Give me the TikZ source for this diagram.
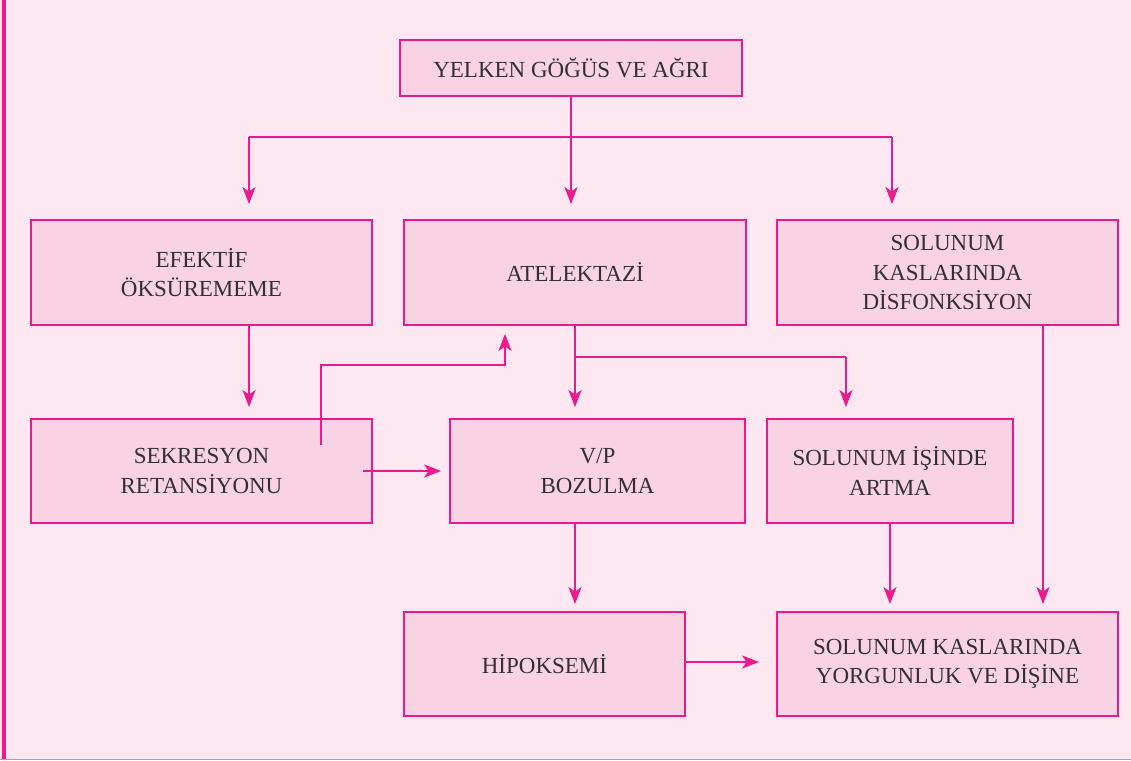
\documentclass[tikz,border=0pt]{standalone}
\usepackage{fontspec}
\setmainfont{Liberation Serif}
\usepackage{xcolor}
\usepackage{tikz}
\usetikzlibrary{arrows.meta}
\usetikzlibrary{positioning}
\definecolor{bgpink}{HTML}{FDE8F1}
\definecolor{boxpink}{HTML}{F9D3E4}
\definecolor{mag}{HTML}{EC1A8D}
\definecolor{txtgray}{HTML}{333033}
\tikzset{
	boxnode/.style={rectangle, draw=mag, fill=boxpink, line width=1.9pt, align=center, text=txtgray, font=\fontsize{23}{29.3}\selectfont, inner sep=0pt},
	link/.style={draw=mag, line width=1.8pt},
	arr/.style={link, -{Stealth[length=17pt, width=13pt, inset=4.5pt]}}
}

\begin{document}
\begin{tikzpicture}[x=1pt, y=-1pt]
		\useasboundingbox (0,0) rectangle (1131,760);
		\fill[bgpink] (0,0) rectangle (1131,760);
		\draw[mag, line width=3.2pt] (4,0) -- (4,760);
		\draw[mag!60, line width=1.2pt] (0,759.5) -- (1131,759.5);

		\node[boxnode, minimum width=342pt, minimum height=56pt] at (571,68) (agri) {YELKEN GÖĞÜS VE AĞRI};

		\node[boxnode, minimum width=341pt, minimum height=105pt] at (201.5,272.5) (efektif) {EFEKTİF\\ÖKSÜREMEME};
		\node[boxnode, minimum width=342pt, minimum height=105pt] at (575,272.5) (atelek) {ATELEKTAZİ};
		\node[boxnode, minimum width=341pt, minimum height=105pt] at (947.5,272.5) (disfonk) {SOLUNUM\\KASLARINDA\\DİSFONKSİYON};

		\node[boxnode, minimum width=341pt, minimum height=104pt] at (201.5,471) (sekres) {SEKRESYON\\RETANSİYONU};
		\node[boxnode, minimum width=295pt, minimum height=104pt] at (597.5,471) (vp) {V/P\\BOZULMA};
		\node[boxnode, minimum width=246pt, minimum height=104pt] at (890,471) (isinde) {SOLUNUM İŞİNDE\\ARTMA};

		\node[boxnode, minimum width=281pt, minimum height=104pt] at (544.5,664) (hipoks) {HİPOKSEMİ};
		\node[boxnode, minimum width=341pt, minimum height=104pt] at (947.5,664) (yorgun) {SOLUNUM KASLARINDA\\YORGUNLUK VE DİŞİNE};

		% top split
		\coordinate (busL) at (249,137);
		\coordinate (busR) at (892,137);
		\draw[link] (agri.south) -- (agri.south |- busL);
		\draw[link] (busL) -- (busR);
		\draw[arr, shorten >=15pt] (busL) -- (busL |- efektif.north);
		\draw[arr, shorten >=15pt] (agri.south) -- (agri.south |- atelek.north);
		\draw[arr, shorten >=15pt] (busR) -- (busR |- disfonk.north);

		\draw[arr, shorten >=11pt] (efektif.south -| busL) -- (sekres.north -| busL);

		% back to atelektazi
		\coordinate (sk) at (321,445);
		\coordinate (up) at (505,365);
		\draw[arr, shorten >=8pt] (sk) |- (up) -- (up |- atelek.south);

		\coordinate (brR) at (846,357);
		\draw[arr, shorten >=11pt] (atelek.south) -- (atelek.south |- vp.north);
		\draw[link] (atelek.south |- brR) -- (brR);
		\draw[arr, shorten >=11pt] (brR) -- (brR |- isinde.north);

		\draw[arr, shorten >=8pt] ([xshift=-10pt]sekres.east) -- (vp.west);

		\draw[arr, shorten >=7pt] (vp.south -| atelek.south) -- (hipoks.north -| atelek.south);
		\draw[arr, shorten >=7pt] (isinde.south) -- (isinde.south |- yorgun.north);
		\coordinate (dk) at (1043,325);
		\draw[arr, shorten >=7pt] (dk |- disfonk.south) -- (dk |- yorgun.north);

		\draw[arr, shorten >=17pt] ([yshift=2pt]hipoks.east) -- ([yshift=2pt]yorgun.west);
	\end{tikzpicture}
\end{document}
